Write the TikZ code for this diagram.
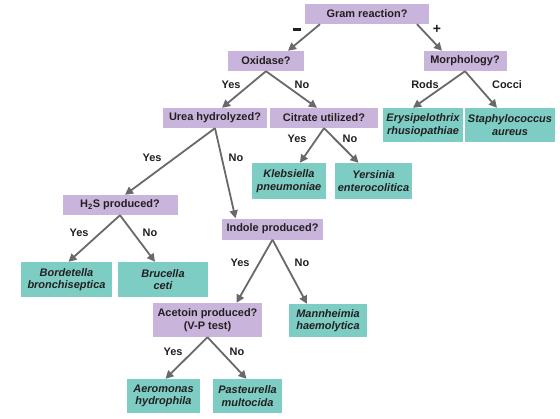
\documentclass[tikz,border=0pt]{standalone}
\usepackage{fontspec}
\setmainfont{Liberation Sans}
\usepackage{tikz}
\usepackage{xcolor}
\usetikzlibrary{arrows.meta,calc}

\definecolor{qpurple}{RGB}{201,181,219}
\definecolor{spteal}{RGB}{125,205,196}
\definecolor{arrowgray}{RGB}{105,105,108}
\definecolor{inkdark}{RGB}{35,31,32}

\begin{document}
\begin{tikzpicture}[
        x=1bp, y=-1bp,
        >={Triangle[length=8bp,width=8bp]},
        every node/.style={font=\fontsize{11}{12.5}\selectfont\bfseries, text=inkdark, align=center, inner sep=0pt},
        box/.style={minimum height=20bp},
        question/.style={box, fill=qpurple},
        species/.style={box, fill=spteal, minimum height=35bp, font=\fontsize{11}{12.5}\selectfont\bfseries\itshape},
        branch/.style={->, draw=arrowgray, line width=1.8bp},
        sign/.style={font=\fontsize{14}{14}\selectfont\bfseries}
    ]
        \useasboundingbox[fill=white] (0,0) rectangle (560,418);

        % questions
        \node[question, minimum width=124bp] (gram) at (367,14) {Gram reaction?};
        \node[question, minimum width=76bp] (ox) at (266,61) {Oxidase?};
        \node[question, minimum width=83bp] (morph) at (465,61) {Morphology?};
        \node[question, minimum width=104bp] (urea) at (215,118) {Urea hydrolyzed?};
        \node[question, minimum width=108bp] (citr) at (324,118) {Citrate utilized?};
        \node[question, minimum width=115bp] (h2s) at (120,205) {H\textsubscript{2}S produced?};
        \node[question, minimum width=101bp, minimum height=21bp] (indole) at (272.5,229) {Indole produced?};
        \node[question, minimum width=109bp, minimum height=34bp] (acet) at (207.5,320) {Acetoin produced?\\(V-P test)};

        % organisms
        \node[species, minimum width=80bp, minimum height=34bp] (erys) at (423,125) {Erysipelothrix\\rhusiopathiae};
        \node[species, minimum width=90bp, minimum height=34bp] (staph) at (510,125) {Staphylococcus\\aureus};
        \node[species, minimum width=74bp, minimum height=36bp] (kleb) at (289,181) {Klebsiella\\pneumoniae};
        \node[species, minimum width=77bp, minimum height=36bp] (yers) at (373.5,181) {Yersinia\\enterocolitica};
        \node[species, minimum width=91bp] (bord) at (66.5,279.5) {Bordetella\\bronchiseptica};
        \node[species, minimum width=90bp] (bruc) at (163,279.5) {Brucella\\ceti};
        \node[species, minimum width=78bp, minimum height=33bp] (mann) at (328,320.5) {Mannheimia\\haemolytica};
        \node[species, minimum width=73bp, minimum height=34bp] (aero) at (163.5,396) {Aeromonas\\hydrophila};
        \node[species, minimum width=69bp, minimum height=34bp] (past) at (247.5,396) {Pasteurella\\multocida};

        % branches
        \draw[branch] ($(gram.south)+(-47,0)$) -- ($(ox.north)+(22,0)$);
        \draw[branch] ($(gram.south)+(50,0)$) -- ($(morph.north)+(-23,0)$);
        \draw[branch] (ox.south) -- ($(urea.north)+(7,0)$);
        \draw[branch] (ox.south) -- ($(citr.north)+(-7,0)$);
        \draw[branch] (morph.south) -- ($(erys.north)+(-10,0)$);
        \draw[branch] (morph.south) -- ($(staph.north)+(-13,0)$);
        \draw[branch] (urea.south) -- ($(h2s.north)+(5,0)$);
        \draw[branch] (urea.south) -- ($(indole.north)+(-37,0)$);
        \draw[branch] (citr.south) -- ($(kleb.north)+(11,0)$);
        \draw[branch] (citr.south) -- ($(yers.north)+(-15,0)$);
        \draw[branch] (h2s.south) -- ($(bord.north)+(2,0)$);
        \draw[branch] (h2s.south) -- ($(bruc.north)+(-8,0)$);
        \draw[branch] (indole.south) -- ($(acet.north)+(29,0)$);
        \draw[branch] (indole.south) -- ($(mann.north)+(-21,0)$);
        \draw[branch] (acet.south) -- ($(aero.north)+(2,0)$);
        \draw[branch] (acet.south) -- ($(past.north)+(-1,0)$);

        % answers
        \node (neg) at (297,29.5) {\rule{8.5bp}{2.4bp}};
        \node[sign] (pos) at (437,29.5) {+};
        \node (oxy) at (231,85) {Yes};
        \node (oxn) at (302,85) {No};
        \node (rods) at (425,85) {Rods};
        \node (cocci) at (507,85) {Cocci};
        \node (ureay) at (152,158) {Yes};
        \node (urean) at (236,158) {No};
        \node (citry) at (297,139) {Yes};
        \node (citrn) at (350,139) {No};
        \node (h2sy) at (79,233) {Yes};
        \node (h2sn) at (150,233) {No};
        \node (indy) at (240,263) {Yes};
        \node (indn) at (302,263) {No};
        \node (acety) at (173,352) {Yes};
        \node (acetn) at (237,352) {No};
    \end{tikzpicture}
\end{document}
